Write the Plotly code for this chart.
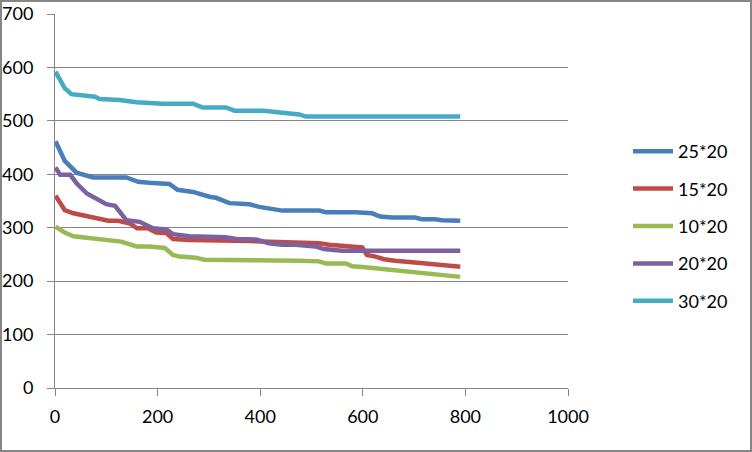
import plotly.graph_objects as go

names = ["25*20", "15*20", "10*20", "20*20", "30*20"]
colors = ["#4A7EBB", "#BE4B48", "#98B954", "#7D60A0", "#46AAC5"]

x_25 = [1, 19, 42, 74, 139, 162, 184, 223, 239, 269, 301, 314, 340, 379, 398, 417, 443, 515, 528, 586, 602, 618, 634, 657, 702, 715, 741, 754, 790]
y_25 = [462, 425, 403, 394, 394, 386, 384, 382, 371, 367, 358, 356, 346, 344, 339, 336, 332, 332, 329, 329, 327, 327, 321, 319, 319, 316, 316, 314, 313]

x_15 = [1, 19, 36, 55, 87, 104, 123, 146, 160, 181, 197, 217, 230, 262, 379, 417, 476, 515, 534, 560, 599, 608, 625, 641, 663, 702, 741, 790]
y_15 = [360, 333, 327, 323, 316, 313, 313, 308, 299, 299, 291, 290, 279, 277, 275, 274, 272, 271, 268, 266, 263, 249, 246, 241, 238, 235, 231, 227]

x_10 = [1, 19, 36, 55, 74, 94, 113, 129, 159, 184, 214, 230, 243, 275, 291, 469, 479, 515, 528, 567, 579, 605, 625, 644, 676, 702, 735, 767, 790]
y_10 = [302, 291, 284, 282, 280, 278, 274, 274, 265, 265, 262, 249, 246, 244, 240, 240, 238, 237, 233, 233, 228, 226, 224, 221, 218, 217, 213, 210, 208]

x_20 = [1, 10, 30, 42, 62, 81, 100, 117, 139, 165, 191, 217, 230, 262, 333, 353, 392, 417, 443, 469, 492, 508, 524, 560, 790]
y_20 = [413, 399, 399, 383, 364, 355, 344, 341, 314, 311, 299, 297, 288, 284, 282, 279, 278, 271, 268, 268, 265, 265, 260, 257, 257]

x_30 = [1, 19, 32, 55, 78, 87, 110, 126, 159, 184, 210, 269, 288, 333, 350, 407, 443, 476, 489, 790]
y_30 = [592, 561, 550, 547, 545, 541, 541, 539, 535, 534, 532, 532, 525, 525, 519, 519, 516, 512, 508, 508]

series_x = [x_25, x_15, x_10, x_20, x_30]
series_y = [y_25, y_15, y_10, y_20, y_30]

x_ticks = [0, 200, 400, 600, 800, 1000]
y_ticks = [0, 100, 200, 300, 400, 500, 600, 700]

fig = go.Figure()
for i, (n, c) in enumerate(zip(names, colors)):
    fig.add_trace(go.Scatter(x=series_x[i], y=series_y[i], name=n, mode="lines",
                             legendgroup=n,
                             line=dict(color=c, width=4.5, shape="linear")))

grid = "#868686"
W, H = 752, 452
L, R, T, B = 55, 568, 14, 388
fig.update_layout(
    width=W, height=H,
    margin=dict(l=L, r=W - R, t=T, b=H - B, pad=0, autoexpand=False),
    paper_bgcolor="white", plot_bgcolor="white",
    font=dict(family="Lato", size=18, color="black"),
    showlegend=True,
    legend=dict(x=(628 - L) / (R - L), xanchor="left", y=(388 - 133) / (B - T), yanchor="top",
                tracegroupgap=11, font=dict(size=18), bgcolor="rgba(0,0,0,0)",
                itemwidth=40),
    xaxis=dict(range=[0, 1000], tickvals=x_ticks, showgrid=False, zeroline=False,
               showline=True, linecolor=grid, linewidth=1, ticks="outside", ticklen=7,
               tickcolor=grid, tickfont=dict(size=18), ticklabelstandoff=5,
               automargin=False, fixedrange=True),
    yaxis=dict(range=[0, 700], tickvals=y_ticks, showgrid=True, gridcolor=grid, gridwidth=1,
               zeroline=False, showline=True, linecolor=grid, linewidth=1, ticks="outside",
               ticklen=7, tickcolor=grid, tickfont=dict(size=18), ticklabelstandoff=10,
               automargin=False, fixedrange=True),
)
# outer chart border
fig.add_shape(type="rect", xref="paper", yref="paper",
              x0=(1 - L) / (R - L), x1=(751 - L) / (R - L),
              y0=(B - 451) / (B - T), y1=(B - 1) / (B - T),
              line=dict(color=grid, width=2), fillcolor="rgba(0,0,0,0)", layer="below")
fig.write_html("out.html", config={"displayModeBar": False},
               post_script="document.body.style.margin='0';document.body.style.overflow='hidden';")
